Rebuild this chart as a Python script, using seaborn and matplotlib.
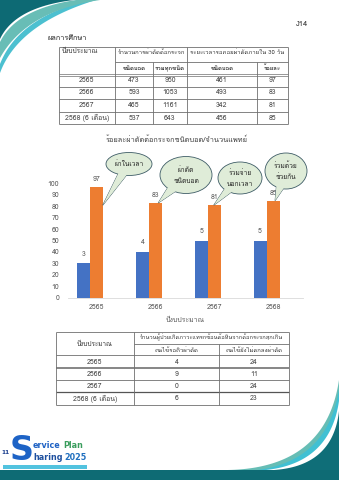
import numpy as np
import pandas as pd
import matplotlib
matplotlib.use("Agg")
import matplotlib.pyplot as plt
import seaborn as sns
from matplotlib.patches import Polygon, Ellipse, Rectangle
from matplotlib import font_manager as fm
from matplotlib.ft2font import FT2Font

# ---------------- data ----------------
years = ["2565", "2566", "2567", "2568"]
pct_blind_within_30 = [97, 83, 81, 85]          # orange bars (%)
num_doctors = [3, 4, 5, 5]                      # blue bars (labels)
doctor_axis_scale = 10                          # chart plots doctor counts x10
callout_texts = ["ผ่าในเวลา", "ผ่าตัด\nชนิดบอด", "ร่วมจ่าย\nนอกเวลา", "ร่วมด้วย\nช่วยกัน"]
chart_title = "ร้อยละผ่าตัดต้อกระจกชนิดบอด/จำนวนแพทย์"
x_label = "ปีงบประมาณ"
y_ticks = [0, 10, 20, 30, 40, 50, 60, 70, 80, 90, 100]

t1_years = ["2565", "2566", "2567", "2568 (6 เดือน)"]
t1_blind = [473, 593, 465, 537]
t1_all_types = [950, 1053, 1161, 643]
t1_blind_30d = [461, 493, 342, 456]
t1_percent = [97, 83, 81, 85]

t2_years = ["2565", "2566", "2567", "2568 (6 เดือน)"]
t2_waiting_queue = [4, 9, 0, 6]
t2_not_agreed = [24, 11, 24, 23]

# ---------------- fonts ----------------
sns.set_style("white")


def find_thai_font():
    for f in fm.fontManager.ttflist:
        try:
            cmap = FT2Font(f.fname).get_charmap()
            if 0x0E01 in cmap and 0x0E32 in cmap and 0x0E48 in cmap:
                return f.name
        except Exception:
            pass
    return None


thai = find_thai_font()
fams = ([thai] if thai else []) + ["DejaVu Sans"]
plt.rcParams["font.family"] = fams

W, H = 339, 480
fig = plt.figure(figsize=(W / 100, H / 100), dpi=100)
bg = fig.add_axes([0, 0, 1, 1])
bg.set_xlim(0, W)
bg.set_ylim(H, 0)
bg.axis("off")
renderer = fig.canvas.get_renderer()


def bez(p0, c, p1, n=60):
    t = np.linspace(0, 1, n)[:, None]
    p0, c, p1 = map(np.array, (p0, c, p1))
    return (1 - t) ** 2 * p0 + 2 * (1 - t) * t * c + t ** 2 * p1


def corner_region(p0, c, p1, corner, color, z=1):
    pts = np.vstack([[corner], bez(p0, c, p1)])
    bg.add_patch(Polygon(pts, closed=True, facecolor=color, edgecolor="none", zorder=z))


# top-left decoration
corner_region((96, 0), (18, 24), (0, 73), (0, 0), "#4cc0d0")
corner_region((88, 0), (18, 18), (0, 64), (0, 0), "white")
corner_region((100, 0), (26, 11), (0, 58), (0, 0), "#68bdb6")
corner_region((76, 0), (16, 9), (0, 42), (0, 0), "white")
corner_region((74, 0), (15, 7), (0, 39), (0, 0), "#0d6a74")

# bottom-right decoration
corner_region((228, 470), (326, 468), (339, 380), (339, 470), "#66bdb5")
corner_region((258, 470), (328, 460), (339, 389), (339, 470), "#40c0d3")
corner_region((266, 470), (330, 463), (339, 401), (339, 470), "white")
corner_region((274, 470), (333, 466), (339, 411), (339, 470), "#0f6e78")
bg.add_patch(Rectangle((0, 470), W, 10, facecolor="#0e6b74", edgecolor="none", zorder=2))


def words(x, y, parts, fs, weight="bold", family="DejaVu Sans", z=3, gap=2.0):
    """Place consecutive coloured words, measuring each width."""
    for txt, col in parts:
        t = bg.text(x, y, txt, fontsize=fs, fontweight=weight, color=col,
                    ha="left", va="center", family=family, zorder=z)
        bb = t.get_window_extent(renderer=renderer)
        x += bb.width + gap


# logo
bg.text(21.5, 450, "S", fontsize=24, fontweight="bold", color="#1d63c6",
        ha="center", va="center", family="DejaVu Sans", zorder=3)
bg.text(6, 453, "11", fontsize=4.2, fontweight="bold", color="#1b3f8f",
        ha="center", va="center", family="DejaVu Sans", zorder=4)
words(33, 446, [("ervice", "#1f62c4"), ("Plan", "#3a9d5d")], 5.8)
words(33, 458, [("haring", "#1d4f9f"), ("2025", "#1f6fbf")], 5.8)
bg.add_patch(Rectangle((3, 465), 84, 3.5, facecolor="#52c3df", edgecolor="none", zorder=3))

# header texts
bg.text(302, 25, "J14", fontsize=5.5, color="#333333", ha="center", va="center")
bg.text(48, 40, "ผลการศึกษา", fontsize=5.3, color="#222222", ha="left", va="baseline")

LC = "#6f6f6f"


def hl(y, x0, x1, lw=0.6, c=LC):
    bg.plot([x0, x1], [y, y], color=c, lw=lw, solid_capstyle="butt", zorder=3)


def vl(x, y0, y1, lw=0.6, c=LC):
    bg.plot([x, x], [y0, y1], color=c, lw=lw, solid_capstyle="butt", zorder=3)


def thai_text(x, yc, s, fs, ha="center", bold=False, color="#333333"):
    bg.text(x, yc + 0.45 * fs, s, fontsize=fs, color=color, ha=ha, va="baseline",
            fontweight="bold" if bold else "normal", zorder=4)


TXT = "#333333"
fs_n = 5
fs_h = 4.3

# ---------------- table 1 ----------------
c1 = [59, 115, 153, 187, 257, 288]
top, mid, hdr = 47, 62, 75
rl = [87, 99, 112, 124]
hl(top, c1[0], c1[-1])
hl(mid, c1[1], c1[-1])
hl(hdr - 0.8, c1[0], c1[-1], lw=0.5)
hl(hdr + 0.8, c1[0], c1[-1], lw=0.5)
for y in rl:
    hl(y, c1[0], c1[-1])
vl(c1[0], top, rl[-1]); vl(c1[-1], top, rl[-1])
vl(c1[1], top, rl[-1]); vl(c1[3], top, rl[-1])
vl(c1[2], mid, rl[-1]); vl(c1[4], mid, rl[-1])
thai_text(62, 51, "ปีงบประมาณ", 4.7, ha="left")
thai_text((c1[1] + c1[3]) / 2, 52, "จำนวนการผ่าตัดต้อกระจก", fs_h)
thai_text((c1[3] + c1[5]) / 2, 52, "ระยะเวลารอคอยผ่าตัดภายใน 30 วัน", fs_h)
for i, s in enumerate(["ชนิดบอด", "รวมทุกชนิด", "ชนิดบอด", "ร้อยละ"]):
    thai_text((c1[i + 1] + c1[i + 2]) / 2, 68.5, s, fs_h, bold=True)
row_c = [81, 93, 105.5, 118]
for r in range(4):
    vals = [t1_years[r], t1_blind[r], t1_all_types[r], t1_blind_30d[r], t1_percent[r]]
    for ci, v in enumerate(vals):
        bg.text((c1[ci] + c1[ci + 1]) / 2, row_c[r], str(v), fontsize=fs_n, color="#444444",
                ha="center", va="center", zorder=4)

# ---------------- table 2 ----------------
c2 = [56, 134, 219, 289]
t2top, t2mid, t2hdr = 332, 344, 355
rl2 = [368, 380, 392, 405]
hl(t2top, c2[0], c2[-1])
hl(t2mid, c2[1], c2[-1])
hl(t2hdr, c2[0], c2[-1])
hl(rl2[0], c2[0], c2[-1], lw=1.1, c="#666666")
hl(rl2[1], c2[0], c2[-1])
hl(rl2[2], c2[0], c2[-1], lw=0.9, c="#555555")
hl(rl2[3], c2[0], c2[-1])
vl(c2[0], t2top, rl2[-1]); vl(c2[-1], t2top, rl2[-1]); vl(c2[1], t2top, rl2[-1])
vl(c2[2], t2mid, rl2[-1])
thai_text((c2[0] + c2[1]) / 2, 344, "ปีงบประมาณ", fs_h + 0.3)
thai_text((c2[1] + c2[3]) / 2, 338, "จำนวนผู้ป่วยเกิดภาวะแทรกซ้อนต้อหินจากต้อกระจกสุกเกิน", 4.1)
thai_text((c2[1] + c2[2]) / 2, 350, "คนไข้รอคิวผ่าตัด", fs_h)
thai_text((c2[2] + c2[3]) / 2, 350, "คนไข้ยังไม่ตกลงผ่าตัด", fs_h)
row_c2 = [362, 374, 386, 398.5]
for r in range(4):
    vals = [t2_years[r], t2_waiting_queue[r], t2_not_agreed[r]]
    for ci, v in enumerate(vals):
        bg.text((c2[ci] + c2[ci + 1]) / 2, row_c2[r], str(v), fontsize=fs_n, color="#444444",
                ha="center", va="center", zorder=4)

# ---------------- chart ----------------
y0_px, y100_px, xl_px, xr_px = 297.5, 183.6, 67.5, 302.5
ax = fig.add_axes([xl_px / W, 1 - y0_px / H, (xr_px - xl_px) / W, (y0_px - y100_px) / H])
ax.patch.set_alpha(0)

df = pd.DataFrame({
    "year": years * 2,
    "value": [d * doctor_axis_scale for d in num_doctors] + pct_blind_within_30,
    "series": ["doctors"] * len(years) + ["percent"] * len(years),
})
# third (empty) series slot as in the original spreadsheet chart
sns.barplot(data=df, x="year", y="value", hue="series",
            hue_order=["doctors", "percent", "empty"],
            palette=["#4472C4", "#ED7D31", "#A5A5A5"], saturation=1,
            width=0.665, gap=0, errorbar=None, legend=False, ax=ax)
for p in ax.patches:
    p.set_linewidth(0)

ax.set_ylim(0, 100)
ax.set_xlim(-0.5, len(years) - 0.5)
ax.set_yticks(y_ticks)
ax.tick_params(axis="y", length=0, labelsize=5, labelcolor="#595959", pad=6)
ax.tick_params(axis="x", which="major", length=0, labelsize=5, labelcolor="#595959", pad=5)
ax.set_xticks(np.arange(-0.5, len(years), 1.0), minor=True)
ax.tick_params(axis="x", which="minor", length=3.5, color="#d9d9d9", width=0.6)
for s in ["left", "right", "top"]:
    ax.spines[s].set_visible(False)
ax.spines["bottom"].set_color("#d9d9d9")
ax.spines["bottom"].set_linewidth(0.6)
ax.set_xlabel("")
ax.set_ylabel("")
ax.grid(False)

cont = ax.containers
ax.bar_label(cont[0], labels=[str(d) for d in num_doctors], padding=4, fontsize=5, color="#595959")
ax.bar_label(cont[1], labels=[str(v) for v in pct_blind_within_30], padding=3, fontsize=5, color="#595959")

fig.text(185 / W, 1 - 320.5 / H, x_label, fontsize=5, color="#595959", ha="center", va="center")
fig.text(177 / W, 1 - 140 / H, chart_title, fontsize=5.3, color="#404040", ha="center", va="center")

# ---------------- callouts ----------------
ov = fig.add_axes([0, 0, 1, 1])
ov.set_xlim(0, W)
ov.set_ylim(H, 0)
ov.axis("off")
ov.patch.set_alpha(0)


def to_px(x, y):
    dx, dy = ax.transData.transform((x, y))
    return dx, H - dy


orange_bars = list(cont[1])
ell = [((129, 164), 46, 23), ((186, 175), 52, 37), ((240, 178), 44, 32), ((286, 171), 42, 36)]
tip_frac = [0.95, 0.7, 0.45, 0.65]
tip_val = [81, pct_blind_within_30[1], pct_blind_within_30[2], pct_blind_within_30[3]]
FILL, EDGE = "#dfecd8", "#3e5c66"
for k, ((cx, cy), w, h) in enumerate(ell):
    b = orange_bars[k]
    tx, ty = to_px(b.get_x() + tip_frac[k] * b.get_width(), tip_val[k])
    ang = np.arctan2((ty - cy) / (h / 2), (tx - cx) / (w / 2))
    pts = []
    for da in (-0.22, 0.22):
        a = ang + da
        pts.append((cx + 0.9 * w / 2 * np.cos(a), cy + 0.9 * h / 2 * np.sin(a)))
    tri = [pts[0], (tx, ty), pts[1]]
    ov.add_patch(Polygon(tri, closed=True, facecolor=FILL, edgecolor=EDGE, lw=0.6, zorder=5))
    ov.add_patch(Ellipse((cx, cy), w, h, facecolor=FILL, edgecolor=EDGE, lw=0.6, zorder=6))
    ov.add_patch(Polygon(tri, closed=True, facecolor=FILL, edgecolor="none", zorder=7))
    lines = callout_texts[k].split("\n")
    if len(lines) == 1:
        ov.text(cx, cy + 2.2, lines[0], fontsize=4.8, color="#222222", ha="center", va="baseline", zorder=8)
    else:
        gap = 5.5
        ov.text(cx, cy - gap + 2.2, lines[0], fontsize=4.8, color="#222222", ha="center", va="baseline", zorder=8)
        ov.text(cx, cy + gap + 2.2, lines[1], fontsize=4.8, color="#222222", ha="center", va="baseline", zorder=8)

fig.savefig("out.png", dpi=100)
